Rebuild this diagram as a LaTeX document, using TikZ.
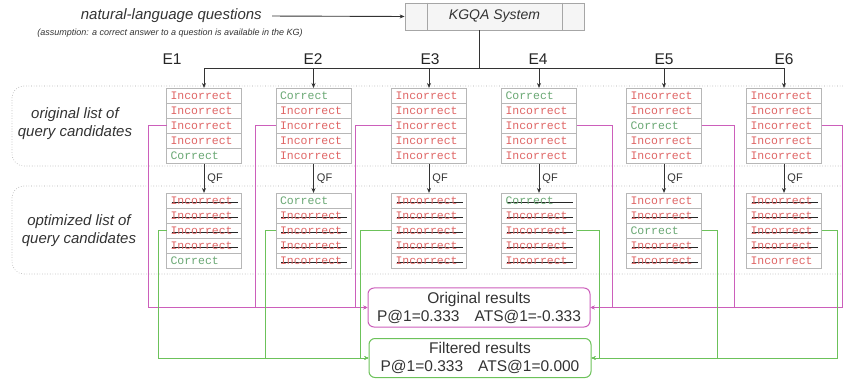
\documentclass[tikz,border=0pt]{standalone}
\usepackage{fontspec}
\setmainfont{Liberation Sans}
\setmonofont{Liberation Mono}
\usetikzlibrary{matrix,arrows.meta}

\definecolor{incred}{HTML}{E06666}
\definecolor{corgreen}{HTML}{6AA874}
\definecolor{origpink}{HTML}{CC5FBB}
\definecolor{filtgreen}{HTML}{6CC25A}
\definecolor{cellgray}{HTML}{B7B7B7}
\definecolor{txtgray}{HTML}{333333}

\tikzset{
	cell/.style={draw=cellgray, fill=white, line width=0.8pt, minimum width=75pt, minimum height=15pt, text width=67pt, inner xsep=4pt, inner ysep=0pt, align=left, font=\fontsize{11.5}{12}\ttfamily, text=incred},
	cor/.style={text=corgreen},
	strk/.style={path picture={\draw[line width=1.6pt, black!85] ([xshift=5pt,yshift=-1.5pt]path picture bounding box.west) -- ([xshift=71pt,yshift=-1.5pt]path picture bounding box.west);}},
	cands/.style={matrix of nodes, nodes={cell}, row sep=-0.8pt, inner sep=0pt, outer sep=0pt, anchor=north},
	flow/.style={draw=txtgray, line width=0.9pt, -{Stealth[length=5pt,width=4pt]}},
	orig/.style={draw=origpink, line width=0.9pt, -{Stealth[length=4pt,width=3.5pt]}},
	filt/.style={draw=filtgreen, line width=0.9pt, -{Stealth[length=4pt,width=3.5pt]}},
	grp/.style={draw=gray!70, dotted, line width=0.6pt, rounded corners=12pt},
	res/.style={rounded corners=6pt, line width=1pt, minimum width=222pt, minimum height=39pt, fill=white, align=center, font=\fontsize{15.5}{18}\selectfont, text=txtgray},
	lbl/.style={align=center, text=txtgray, font=\fontsize{15}{18}\selectfont\itshape}
}

\begin{document}
\begin{tikzpicture}[x=1pt, y=-1pt]
	\useasboundingbox (0,0) rectangle (843,379);
	% row frames
	\draw[grp] (843,86) -- (12,86) -- (12,166) -- (843,166);
	\draw[grp] (843,186) -- (12,186) -- (12,274) -- (843,274);
	\node[lbl] (origlbl) at (75,124) {original list of\\query candidates};
	\node[lbl] (optlbl) at (79,231) {optimized list of\\query candidates};

	% system and input
	\node[draw=gray!70, fill=gray!8, line width=0.8pt, minimum width=179pt, minimum height=27pt, text=txtgray, font=\fontsize{14}{16}\selectfont\itshape] (kgqa) at (494.5,16.5) {KGQA System};
	\draw[gray!70, line width=0.8pt] ([xshift=23pt]kgqa.north west) -- ([xshift=23pt]kgqa.south west);
	\draw[gray!70, line width=0.8pt] ([xshift=-22pt]kgqa.north east) -- ([xshift=-22pt]kgqa.south east);
	\node[lbl, anchor=east, inner sep=3pt] (nlq) at (265,16) {natural-language questions};
	\node[text=txtgray, font=\fontsize{9}{11}\selectfont\itshape] (asm) at (170,33) {(assumption: a correct answer to a question is available in the KG)};
	\draw[flow, shorten <=7pt] (nlq.east) -- (kgqa.west);

	% experiment labels
	\foreach \i/\x in {1/172, 2/313, 3/430, 4/538, 5/664, 6/784}
		\node[text=black!85, font=\fontsize{15.5}{16}\selectfont] (e\i) at (\x,59.5) {E\i};

	% original lists
	\matrix (o1) [cands] at (204,88) {
		Incorrect \\ Incorrect \\ Incorrect \\ Incorrect \\ |[cor]| Correct \\
	};
	\matrix (o2) [cands] at (313.5,88) {
		|[cor]| Correct \\ Incorrect \\ Incorrect \\ Incorrect \\ Incorrect \\
	};
	\matrix (o3) [cands] at (429,88) {
		Incorrect \\ Incorrect \\ Incorrect \\ Incorrect \\ Incorrect \\
	};
	\matrix (o4) [cands] at (539,88) {
		|[cor]| Correct \\ Incorrect \\ Incorrect \\ Incorrect \\ Incorrect \\
	};
	\matrix (o5) [cands] at (664,88) {
		Incorrect \\ Incorrect \\ |[cor]| Correct \\ Incorrect \\ Incorrect \\
	};
	\matrix (o6) [cands] at (784,88) {
		Incorrect \\ Incorrect \\ Incorrect \\ Incorrect \\ Incorrect \\
	};

	% filtered lists
	\matrix (f1) [cands] at (204,193) {
		|[strk]| Incorrect \\ |[strk]| Incorrect \\ |[strk]| Incorrect \\ |[strk]| Incorrect \\ |[cor]| Correct \\
	};
	\matrix (f2) [cands] at (313.5,193) {
		|[cor]| Correct \\ |[strk]| Incorrect \\ |[strk]| Incorrect \\ |[strk]| Incorrect \\ |[strk]| Incorrect \\
	};
	\matrix (f3) [cands] at (429,193) {
		|[strk]| Incorrect \\ |[strk]| Incorrect \\ |[strk]| Incorrect \\ |[strk]| Incorrect \\ |[strk]| Incorrect \\
	};
	\matrix (f4) [cands] at (539,193) {
		|[cor,strk]| Correct \\ |[strk]| Incorrect \\ |[strk]| Incorrect \\ |[strk]| Incorrect \\ |[strk]| Incorrect \\
	};
	\matrix (f5) [cands] at (664,193) {
		Incorrect \\ |[strk]| Incorrect \\ |[cor]| Correct \\ |[strk]| Incorrect \\ |[strk]| Incorrect \\
	};
	\matrix (f6) [cands] at (784,193) {
		|[strk]| Incorrect \\ |[strk]| Incorrect \\ |[strk]| Incorrect \\ |[strk]| Incorrect \\ Incorrect \\
	};

	% distribution to the lists
	\coordinate (bus) at (479,68);
	\draw[txtgray, line width=0.9pt] (kgqa.south -| bus) -- (bus);
	\foreach \i in {1,...,6} {
		\draw[flow] (bus) -| (o\i.north);
		\draw[flow] (o\i.south) -- node[right, inner sep=3pt, text=txtgray, font=\fontsize{11}{12}\selectfont] (qf\i) {QF} (f\i.north);
	}

	% results
	\node[res, draw=origpink] (origres) at (479,307.5) {Original results\\P@1=0.333\hspace{15pt}ATS@1=-0.333};
	\node[res, draw=filtgreen] (filtres) at (480,358) {Filtered results\\P@1=0.333\hspace{15pt}ATS@1=0.000};

	\foreach \i/\d in {1/-18, 2/-21, 3/-36}
		\draw[orig] (o\i-3-1.west) -- ++(\d,0) |- (origres.west);
	\foreach \i/\d in {4/36, 5/33, 6/21}
		\draw[orig] (o\i-3-1.east) -- ++(\d,0) |- (origres.east);
	\foreach \i/\d in {1/-8, 2/-11, 3/-31}
		\draw[filt] (f\i-3-1.west) -- ++(\d,0) |- (filtres.west);
	\foreach \i/\d in {4/23, 5/16, 6/16}
		\draw[filt] (f\i-3-1.east) -- ++(\d,0) |- (filtres.east);
\end{tikzpicture}
\end{document}
